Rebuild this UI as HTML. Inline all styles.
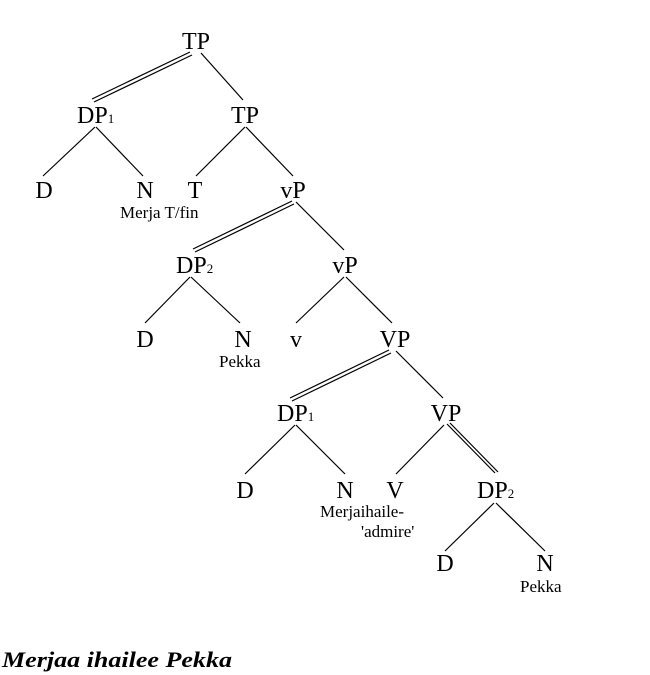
<!DOCTYPE html>
<html><head><meta charset="utf-8"><style>
html,body{margin:0;padding:0;background:#fff;}
svg{display:block;}
text{font-family:"Liberation Serif","Times New Roman",Times,serif;fill:#000;}
.n{font-size:24px;text-anchor:middle;}
.s{font-size:17px;}
.sub{font-size:13px;}
line{stroke:#000;stroke-width:1.2;}
</style></head><body>
<svg width="650" height="675" viewBox="0 0 650 675" font-family="Liberation Serif, Times New Roman, serif">
<line x1="190" y1="52" x2="92" y2="99"/><line x1="192" y1="55" x2="94" y2="102"/>
<line x1="201" y1="53" x2="243" y2="100"/>
<line x1="95" y1="127" x2="43" y2="176"/><line x1="96" y1="127" x2="143" y2="176"/>
<line x1="245" y1="127" x2="196" y2="176"/><line x1="246" y1="127" x2="293" y2="176"/>
<line x1="292" y1="201" x2="193" y2="249"/><line x1="294" y1="204" x2="195" y2="252"/>
<line x1="296" y1="202" x2="344" y2="250"/>
<line x1="190" y1="277" x2="145" y2="323"/><line x1="191" y1="277" x2="240" y2="323"/>
<line x1="344" y1="277" x2="296" y2="323"/><line x1="346" y1="277" x2="392" y2="323"/>
<line x1="389" y1="350" x2="290" y2="398"/><line x1="391" y1="353" x2="292" y2="401"/>
<line x1="396" y1="351" x2="443" y2="398"/>
<line x1="295" y1="425" x2="245" y2="474"/><line x1="296" y1="425" x2="345" y2="474"/>
<line x1="444" y1="425" x2="396" y2="474"/>
<line x1="447" y1="424" x2="495" y2="473"/><line x1="450" y1="423" x2="498" y2="472"/>
<line x1="494" y1="503" x2="445" y2="551"/><line x1="496" y1="503" x2="545" y2="551"/>
<text class="n" x="196" y="49">TP</text>
<text x="77" y="123" style="font-size:24px">DP<tspan class="sub">1</tspan></text>
<text class="n" x="245" y="123">TP</text>
<text class="n" x="44" y="198">D</text>
<text class="n" x="145" y="198">N</text>
<text class="n" x="195" y="198">T</text>
<text class="n" x="293" y="198">vP</text>
<text class="s" x="120" y="218">Merja T/fin</text>
<text x="176" y="273" style="font-size:24px">DP<tspan class="sub">2</tspan></text>
<text class="n" x="345" y="273">vP</text>
<text class="n" x="145" y="347">D</text>
<text class="n" x="243" y="347">N</text>
<text class="n" x="296" y="347">v</text>
<text class="n" x="395" y="347">VP</text>
<text class="s" x="219" y="367">Pekka</text>
<text x="277" y="421" style="font-size:24px">DP<tspan class="sub">1</tspan></text>
<text class="n" x="446" y="421">VP</text>
<text class="n" x="245" y="498">D</text>
<text class="n" x="345" y="498">N</text>
<text class="n" x="395" y="498">V</text>
<text x="477" y="498" style="font-size:24px">DP<tspan class="sub">2</tspan></text>
<text class="s" x="320" y="517">Merjaihaile-</text>
<text class="s" x="361" y="537">'admire'</text>
<text class="n" x="445" y="571">D</text>
<text class="n" x="545" y="571">N</text>
<text class="s" x="520" y="592">Pekka</text>
<text x="2" y="667" style="font-size:22px;font-style:italic;font-weight:bold" textLength="230" lengthAdjust="spacingAndGlyphs">Merjaa ihailee Pekka</text>
</svg>
</body></html>
